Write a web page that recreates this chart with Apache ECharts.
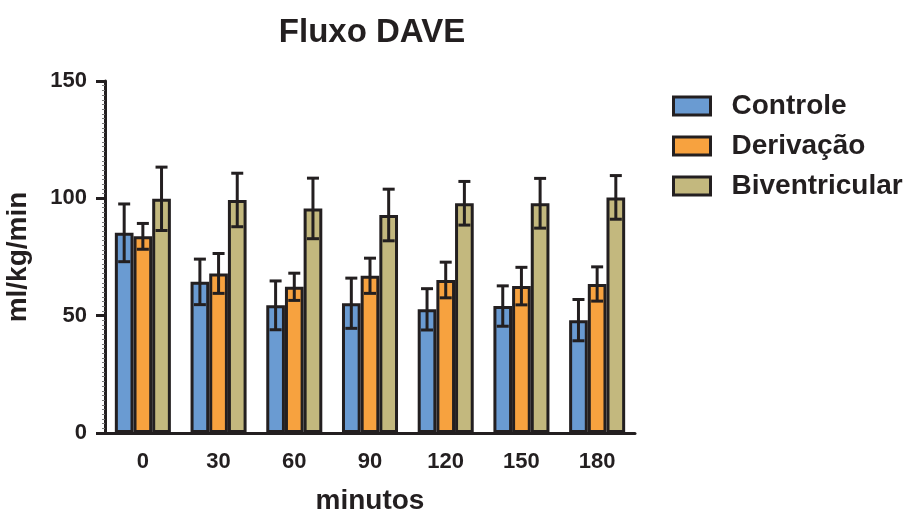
<!DOCTYPE html>
<html>
<head>
<meta charset="utf-8">
<script src="https://cdn.jsdelivr.net/npm/echarts@6/dist/echarts.min.js"></script>
<style>
html,body{margin:0;padding:0;background:#fff;}
#chart{width:910px;height:515px;}
</style>
</head>
<body>
<div id="chart"></div>
<script>
var categories = ['0', '30', '60', '90', '120', '150', '180'];
var seriesNames = ['Controle', 'Derivação', 'Biventricular'];
var controle = [85.3, 64.4, 54.4, 55.3, 52.7, 54.1, 48.1];
var controleErr = [12.3, 9.7, 10.4, 10.7, 8.8, 8.6, 8.8];
var derivacao = [83.8, 68.0, 62.3, 67.0, 65.2, 62.6, 63.5];
var derivacaoErr = [5.5, 8.5, 5.8, 7.5, 7.6, 8.0, 7.3];
var biventricular = [99.8, 99.3, 95.7, 92.9, 97.9, 97.9, 100.4];
var biventricularErr = [13.5, 11.4, 12.9, 11.0, 9.3, 10.6, 9.3];
var yTicks = [0, 50, 100, 150];

var colors = ['#6a9bd2', '#f7a23f', '#c3b87e'];
var dark = '#231f20';
var font = '"Liberation Sans", Arial, sans-serif';
var catGap = 0.26;

var values = [controle, derivacao, biventricular];
var errs = [controleErr, derivacaoErr, biventricularErr];

var chart = echarts.init(document.getElementById('chart'));

var series = [];
seriesNames.forEach(function (name, i) {
  series.push({
    name: name,
    type: 'bar',
    data: values[i],
    barGap: '0%',
    barCategoryGap: (catGap * 100) + '%',
    itemStyle: { color: colors[i], borderColor: dark, borderWidth: 3 },
    z: 2
  });
});
seriesNames.forEach(function (name, i) {
  series.push({
    name: name + ' err',
    type: 'custom',
    z: 5,
    encode: { x: 0, y: 1 },
    data: values[i].map(function (v, k) { return [k, v, errs[i][k]]; }),
    renderItem: function (params, api) {
      var idx = api.value(0);
      var v = api.value(1);
      var e = api.value(2);
      var catW = api.size([1, 0])[0];
      var bw = catW * (1 - catGap) / 3;
      var off = (i - 1) * bw;
      var top = api.coord([idx, v + e]);
      var bot = api.coord([idx, v - e]);
      var x = top[0] + off;
      var cap = 6;
      var st = { stroke: dark, lineWidth: 3 };
      return {
        type: 'group',
        children: [
          { type: 'line', shape: { x1: x, y1: top[1], x2: x, y2: bot[1] }, style: st },
          { type: 'line', shape: { x1: x - cap, y1: top[1], x2: x + cap, y2: top[1] }, style: st },
          { type: 'line', shape: { x1: x - cap, y1: bot[1], x2: x + cap, y2: bot[1] }, style: st }
        ]
      };
    }
  });
});

chart.setOption({
  animation: false,
  backgroundColor: '#ffffff',
  title: {
    text: 'Fluxo DAVE',
    left: 367,
    textAlign: 'center',
    top: 11,
    textStyle: { fontFamily: font, fontWeight: 'bold', fontSize: 33, color: dark }
  },
  legend: {
    data: seriesNames,
    orient: 'vertical',
    left: 672,
    top: 91,
    padding: 0,
    itemWidth: 37,
    itemHeight: 18,
    itemGap: 10,
    icon: 'rect',
    itemStyle: { borderColor: dark, borderWidth: 3 },
    textStyle: { fontFamily: font, fontWeight: 'bold', fontSize: 28, color: dark, lineHeight: 30, padding: [0, 0, 0, 16] }
  },
  grid: { left: 105, right: 275, top: 81, bottom: 82, containLabel: false, outerBoundsMode: 'none' },
  xAxis: {
    type: 'category',
    data: categories,
    name: 'minutos',
    nameLocation: 'middle',
    nameGap: 54,
    nameTextStyle: { fontFamily: font, fontWeight: 'bold', fontSize: 28, color: dark },
    axisLine: { lineStyle: { color: dark, width: 3 } },
    axisTick: { alignWithLabel: true, length: 9, lineStyle: { color: dark, width: 3 } },
    axisLabel: { fontFamily: font, fontWeight: 'bold', fontSize: 22, color: dark, margin: 18 },
    splitLine: { show: false }
  },
  yAxis: {
    type: 'value',
    min: yTicks[0],
    max: yTicks[yTicks.length - 1],
    interval: 50,
    name: 'ml/kg/min',
    nameLocation: 'middle',
    nameRotate: 90,
    nameGap: 73,
    nameTextStyle: { fontFamily: font, fontWeight: 'bold', fontSize: 28, color: dark },
    axisLine: { show: true, lineStyle: { color: dark, width: 3 } },
    axisTick: { show: true, length: 9, lineStyle: { color: dark, width: 3 } },
    minorTick: { show: true, splitNumber: 25, length: 3, lineStyle: { color: '#777', width: 1 } },
    axisLabel: { fontFamily: font, fontWeight: 'bold', fontSize: 22, color: dark, margin: 18 },
    splitLine: { show: false },
    minorSplitLine: { show: false }
  },
  series: series
});
</script>
</body>
</html>
